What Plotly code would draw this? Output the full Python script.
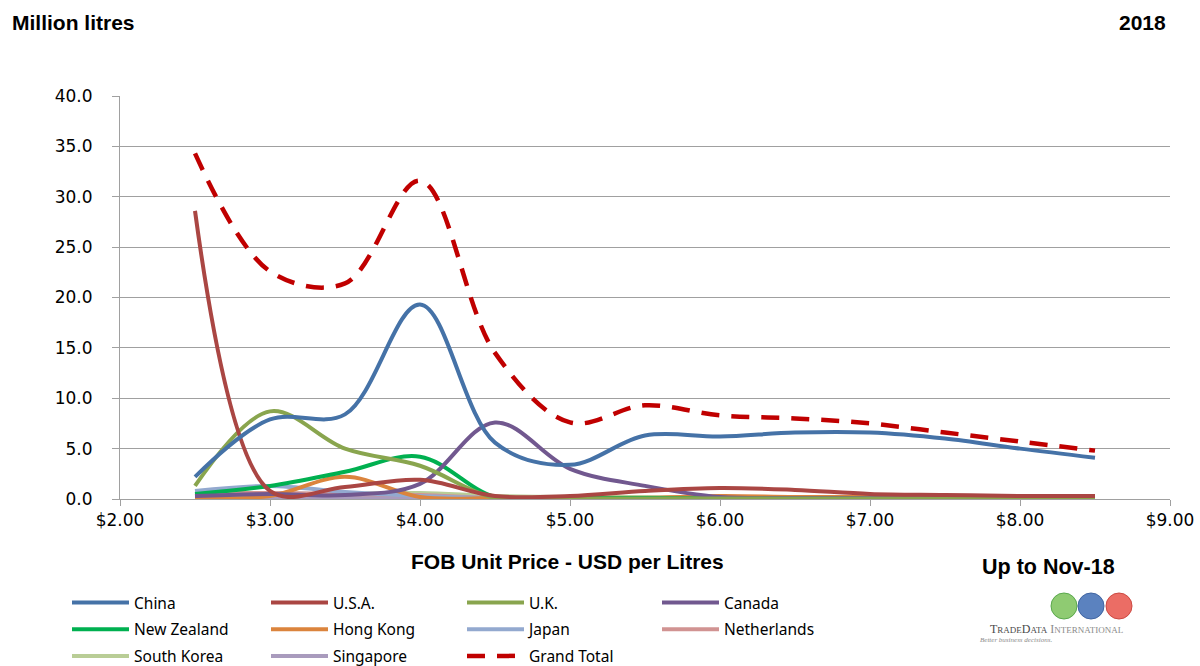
import plotly.graph_objects as go

prices = [2.5, 3.0, 3.5, 4.0, 4.5, 5.0, 5.5, 6.0, 6.5, 7.0, 7.5, 8.0, 8.5]

china = [2.2, 7.9, 8.4, 19.3, 5.6, 3.4, 6.3, 6.2, 6.6, 6.6, 6.0, 5.0, 4.1]
usa = [28.6, 0.8, 1.2, 1.9, 0.3, 0.3, 0.8, 1.1, 0.9, 0.5, 0.4, 0.3, 0.3]
uk = [1.3, 8.7, 5.0, 3.3, 0.1, 0.05, 0.05, 0.05, 0.05, 0.05, 0.05, 0.05, 0.05]
canada = [0.3, 0.5, 0.4, 1.5, 7.6, 3.0, 1.3, 0.2, 0.1, 0.1, 0.1, 0.1, 0.1]
new_zealand = [0.5, 1.3, 2.7, 4.2, 0.2, 0.1, 0.1, 0.05, 0.05, 0.05, 0.05, 0.05, 0.05]
hong_kong = [0.1, 0.3, 2.2, 0.2, 0.1, 0.1, 0.1, 0.3, 0.2, 0.2, 0.2, 0.2, 0.1]
japan = [0.8, 1.3, 0.7, 0.3, 0.1, 0.1, 0.1, 0.1, 0.1, 0.1, 0.1, 0.1, 0.1]
netherlands = [0.6, 0.6, 0.5, 0.4, 0.1, 0.1, 0.1, 0.1, 0.1, 0.1, 0.1, 0.1, 0.1]
south_korea = [0.3, 0.5, 0.5, 0.6, 0.3, 0.2, 0.2, 0.1, 0.1, 0.1, 0.1, 0.1, 0.1]
singapore = [0.1, 0.1, 0.1, 0.1, 0.1, 0.1, 0.1, 0.1, 0.1, 0.1, 0.1, 0.1, 0.1]
grand_total = [34.3, 22.6, 21.4, 31.6, 14.5, 7.6, 9.3, 8.3, 8.0, 7.5, 6.6, 5.7, 4.8]

y_ticks = [0, 5, 10, 15, 20, 25, 30, 35, 40]
x_ticks = [2, 3, 4, 5, 6, 7, 8, 9]
x_tick_labels = ["$2.00", "$3.00", "$4.00", "$5.00", "$6.00", "$7.00", "$8.00", "$9.00"]

series = [
    ("China", china, "#4572A7", "legend"),
    ("U.S.A.", usa, "#AA4643", "legend2"),
    ("U.K.", uk, "#89A54E", "legend3"),
    ("Canada", canada, "#71588F", "legend4"),
    ("New Zealand", new_zealand, "#00B050", "legend"),
    ("Hong Kong", hong_kong, "#DB843D", "legend2"),
    ("Japan", japan, "#93A9CF", "legend3"),
    ("Netherlands", netherlands, "#D19392", "legend4"),
    ("South Korea", south_korea, "#B9CD96", "legend"),
    ("Singapore", singapore, "#A99BBD", "legend2"),
]

fig = go.Figure()
draw_order = [9, 8, 7, 6, 5, 4, 3, 2, 1, 0]
for i in draw_order:
    name, vals, col, leg = series[i]
    fig.add_trace(go.Scatter(
        x=prices, y=vals, name=name, mode="lines",
        line=dict(color=col, width=4, shape="spline", smoothing=1),
        legend=leg, legendgroup=name, legendrank=i,
    ))
fig.add_trace(go.Scatter(
    x=prices, y=grand_total, name="Grand Total", mode="lines",
    line=dict(color="#C00000", width=4.5, shape="spline", smoothing=1, dash="18px,12px"),
    legend="legend3", legendgroup="Grand Total", legendrank=20,
))

W, H = 1200, 666
L, R, T, B = 120, 30, 96, 167
PW, PH = W - L - R, H - T - B

leg_font = dict(family="Noto Sans", size=15.5, color="#000000")
def leg(xpx):
    return dict(x=xpx / W, y=1 - 586 / H, xref="container", yref="container",
                xanchor="left", yanchor="top", orientation="v", font=leg_font,
                bgcolor="rgba(0,0,0,0)", traceorder="grouped", tracegroupgap=3.5,
                itemwidth=57)

tick_font = dict(family="DejaVu Sans", size=17, color="#000")
fig.update_layout(
    width=W, height=H,
    margin=dict(l=L, r=R, t=T, b=B, autoexpand=False),
    paper_bgcolor="white", plot_bgcolor="white",
    showlegend=True,
    legend=leg(67), legend2=leg(266), legend3=leg(462), legend4=leg(657),
    xaxis=dict(range=[2, 9], tickvals=x_ticks, ticktext=["\u200b" + t for t in x_tick_labels],
               showgrid=False, showline=True, linecolor="#A0A0A0", linewidth=1,
               ticks="outside", ticklen=6, tickcolor="#A0A0A0",
               tickfont=tick_font, zeroline=False),
    yaxis=dict(range=[0, 40], tickvals=y_ticks, tickformat=".1f",
               showgrid=True, gridcolor="#A0A0A0", gridwidth=1,
               showline=True, linecolor="#A0A0A0", linewidth=1, zeroline=False,
               ticks="outside", ticklen=7, tickcolor="#A0A0A0",
               ticklabelstandoff=16, tickfont=tick_font),
    font=dict(family="Liberation Sans"),
)

def px(xp, yp):
    return (xp - L) / PW, (H - yp - B) / PH

bold = dict(family="Liberation Sans", size=21, color="#000")
anns = [
    dict(text="<b>Million litres</b>", pos=(10, 22), xanchor="left", font=bold),
    dict(text="<b>2018</b>", pos=(1168, 22), xanchor="right", font=bold),
    dict(text="<b>FOB Unit Price - USD per Litres</b>", pos=(567, 561), xanchor="center", font=bold),
    dict(text="<b>Up to Nov-18</b>", pos=(1048, 567), xanchor="center",
         font=dict(family="Liberation Sans", size=21.5, color="#000")),
    dict(text="T<span style='font-size:9px'>RADE</span>D<span style='font-size:9px'>ATA</span> "
              "<span style='color:#8a8a8a'>I<span style='font-size:9px'>NTERNATIONAL</span></span>",
         pos=(1056, 629), xanchor="center",
         font=dict(family="Liberation Serif", size=12, color="#4a4a4a")),
    dict(text="<i>Better business decisions.</i>", pos=(978, 640), xanchor="left",
         font=dict(family="Liberation Serif", size=7, color="#8a8a8a")),
]
for a in anns:
    xp, yp = a.pop("pos")
    a["x"], a["y"] = px(xp, yp)
    a.update(xref="paper", yref="paper", showarrow=False, yanchor="middle")
fig.update_layout(annotations=anns)

globes = [(1064, "#7CC35A", "#3E9A2E"), (1091, "#3F6DB5", "#1F4A92"), (1119, "#E8544B", "#C42A22")]
shapes = []
for cx, fill, edge in globes:
    x0, y0 = px(cx - 13, 619)
    x1, y1 = px(cx + 13, 593)
    shapes.append(dict(type="circle", xref="paper", yref="paper", x0=x0, x1=x1, y0=y0, y1=y1,
                       fillcolor=fill, line=dict(color=edge, width=1), opacity=0.85))
fig.update_layout(shapes=shapes)

fig.write_html("out.html", config={"displayModeBar": False},
               post_script="document.body.style.margin='0px';")
